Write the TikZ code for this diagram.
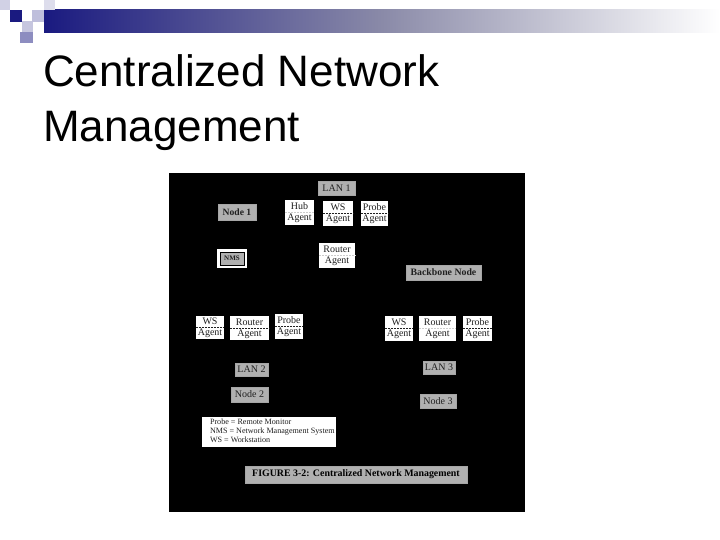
\documentclass[tikz,border=0pt]{standalone}
\usepackage{fontspec}
\setmainfont{Liberation Serif}
\newfontfamily\headfont{Liberation Sans}
\definecolor{navy}{HTML}{1A1A80}
\definecolor{midgray}{HTML}{8A8AA8}
\definecolor{boxgray}{HTML}{B0B0B0}
\definecolor{inkgray}{HTML}{202020}
\begin{document}
\begin{tikzpicture}[x=1pt,y=-1pt,
  graybox/.style={fill=boxgray,draw=gray!70,line width=0.6pt,inner sep=0pt,font=\fontsize{10}{11}\selectfont,text=inkgray},
  agentbox/.style={fill=white,draw=none,inner sep=0pt},
  agtext/.style={font=\fontsize{10}{11}\selectfont,text=inkgray,inner sep=0pt},
  sepdark/.style={dashed,dash pattern=on 2pt off 1pt,draw=inkgray,line width=0.6pt},
  seplight/.style={dashed,dash pattern=on 2pt off 1pt,draw=gray!40,line width=0.6pt},
  titletext/.style={font=\headfont\fontsize{44}{50}\selectfont,anchor=base west,inner sep=0pt}
]
\useasboundingbox (0,0) rectangle (720,540);
\fill[white] (0,0) rectangle (720,540);
% header decoration
\shade[left color=navy,right color=white,middle color=midgray] (44,10) rectangle (720,33);
\fill[navy!20] (0,0) rectangle (10,10);
\fill[navy] (10,10) rectangle (22,22);
\fill[navy!25] (22,21) rectangle (33,32);
\fill[navy!28] (32,10) rectangle (44,22);
\fill[navy!15] (44,0) rectangle (55,10);
\fill[navy!50] (20,32) rectangle (33,43);
% title
\node[titletext] (t1) at (43,87) {Centralized Network};
\node[titletext] (t2) at (43,142) {Management};
% black figure
\fill[black] (169,173) rectangle (525,512);

% gray label boxes
\node[graybox,minimum width=37pt,minimum height=14pt] (lan1) at (336.5,188) {LAN 1};
\node[graybox,minimum width=38pt,minimum height=16pt,font=\bfseries\fontsize{9.6}{10}\selectfont] (node1) at (237,212) {Node 1};
\node[fill=white,minimum width=30pt,minimum height=19pt,inner sep=0pt] (nmsout) at (232,258.5) {};
\node[graybox,draw=black,minimum width=24pt,minimum height=13pt,font=\bfseries\fontsize{7}{8}\selectfont] (nms) at (232,258.5) {NMS};
\node[graybox,minimum width=75pt,minimum height=15pt,font=\bfseries\fontsize{9.8}{10}\selectfont] (bb) at (443.5,272.5) {Backbone Node};
\node[graybox,minimum width=33pt,minimum height=13pt] (lan2) at (251.5,369.5) {LAN 2};
\node[graybox,minimum width=37pt,minimum height=15pt] (node2) at (249.5,394.5) {Node 2};
\node[graybox,minimum width=32pt,minimum height=13pt] (lan3) at (439,367.5) {LAN 3};
\node[graybox,minimum width=36pt,minimum height=14pt] (node3) at (438,401) {Node 3};

% agent boxes
\node[agentbox,minimum width=29pt,minimum height=25pt] (hub) at (299.5,212.5) {};
\node[agtext] (hubtop) at ([yshift=6pt]hub.center) {Hub};
\node[agtext] (hubbot) at ([yshift=-6pt]hub.center) {Agent};
\draw[seplight] (hub.west) -- (hub.east);

\node[agentbox,minimum width=30pt,minimum height=25pt] (ws1) at (338,213.5) {};
\node[agtext] (ws1top) at ([yshift=6pt]ws1.center) {WS};
\node[agtext] (ws1bot) at ([yshift=-6pt]ws1.center) {Agent};
\draw[sepdark] (ws1.west) -- (ws1.east);

\node[agentbox,minimum width=27pt,minimum height=25pt] (pr1) at (374.5,213.5) {};
\node[agtext] (pr1top) at ([yshift=6pt]pr1.center) {Probe};
\node[agtext] (pr1bot) at ([yshift=-6pt]pr1.center) {Agent};
\draw[sepdark] (pr1.west) -- (pr1.east);

\node[agentbox,minimum width=36pt,minimum height=25pt] (rt1) at (337,255.5) {};
\node[agtext] (rt1top) at ([yshift=6pt]rt1.center) {Router};
\node[agtext] (rt1bot) at ([yshift=-6pt]rt1.center) {Agent};
\draw[seplight] (rt1.west) -- (rt1.east);

\node[agentbox,minimum width=28pt,minimum height=23pt] (ws2) at (210,327.5) {};
\node[agtext] (ws2top) at ([yshift=6pt]ws2.center) {WS};
\node[agtext] (ws2bot) at ([yshift=-6pt]ws2.center) {Agent};
\draw[sepdark] (ws2.west) -- (ws2.east);

\node[agentbox,minimum width=39pt,minimum height=24pt] (rt2) at (249.5,328) {};
\node[agtext] (rt2top) at ([yshift=6pt]rt2.center) {Router};
\node[agtext] (rt2bot) at ([yshift=-6pt]rt2.center) {Agent};
\draw[sepdark] (rt2.west) -- (rt2.east);

\node[agentbox,minimum width=28pt,minimum height=25pt] (pr2) at (289,326.5) {};
\node[agtext] (pr2top) at ([yshift=6pt]pr2.center) {Probe};
\node[agtext] (pr2bot) at ([yshift=-6pt]pr2.center) {Agent};
\draw[sepdark] (pr2.west) -- (pr2.east);

\node[agentbox,minimum width=28pt,minimum height=25pt] (ws3) at (399,328.5) {};
\node[agtext] (ws3top) at ([yshift=6pt]ws3.center) {WS};
\node[agtext] (ws3bot) at ([yshift=-6pt]ws3.center) {Agent};
\draw[sepdark] (ws3.west) -- (ws3.east);

\node[agentbox,minimum width=37pt,minimum height=25pt] (rt3) at (437.5,328.5) {};
\node[agtext] (rt3top) at ([yshift=6pt]rt3.center) {Router};
\node[agtext] (rt3bot) at ([yshift=-6pt]rt3.center) {Agent};
\draw[seplight] (rt3.west) -- (rt3.east);

\node[agentbox,minimum width=29pt,minimum height=25pt] (pr3) at (477.5,328.5) {};
\node[agtext] (pr3top) at ([yshift=6pt]pr3.center) {Probe};
\node[agtext] (pr3bot) at ([yshift=-6pt]pr3.center) {Agent};
\draw[sepdark] (pr3.west) -- (pr3.east);

% legend
\node[fill=white,minimum width=134pt,minimum height=30pt,inner sep=0pt] (legend) at (269,432) {};
\node[anchor=north west,inner sep=0pt,align=left,text=inkgray,font=\fontsize{8.1}{8.7}\selectfont] (legtext) at ([xshift=8pt,yshift=-2pt]legend.north west)
  {Probe = Remote Monitor\\NMS = Network Management System\\WS = Workstation};
% caption
\node[graybox,minimum width=222pt,minimum height=17pt,text=black,font=\bfseries\fontsize{9.9}{11}\selectfont] (cap) at (356,474.5) {FIGURE 3-2: Centralized Network Management};
\end{tikzpicture}
\end{document}
